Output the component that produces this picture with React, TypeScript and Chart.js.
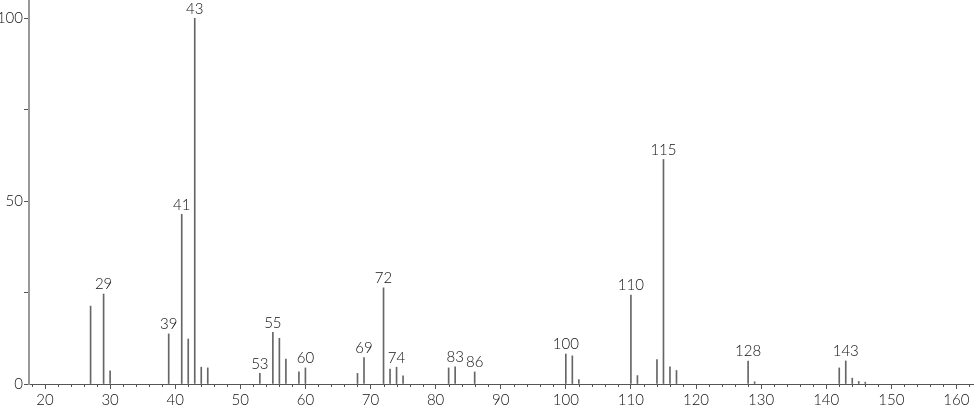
import React, { useEffect, useRef } from "react";
import { Chart, registerables } from "chart.js";

Chart.register(...registerables);

const mzValues = [27, 29, 30, 39, 41, 42, 43, 44, 45, 53, 55, 56, 57, 59, 60, 68, 69, 72, 73, 74, 75, 82, 83, 86, 100, 101, 102, 110, 111, 114, 115, 116, 117, 128, 129, 142, 143, 144, 145, 146];
const intensities = [21.3, 24.6, 3.6, 13.7, 46.4, 12.3, 100, 4.6, 4.4, 2.9, 14.1, 12.5, 6.8, 3.3, 4.4, 2.9, 7.2, 26.3, 4.1, 4.6, 2.2, 4.4, 4.7, 3.3, 8.2, 7.7, 1.2, 24.3, 2.3, 6.7, 61.4, 4.7, 3.7, 6.3, 0.6, 4.4, 6.3, 1.6, 0.7, 0.5];
const labeledPeaks = [29, 39, 41, 43, 53, 55, 60, 69, 72, 74, 83, 86, 100, 110, 115, 128, 143];
const xMajorTicks = [20, 30, 40, 50, 60, 70, 80, 90, 100, 110, 120, 130, 140, 150, 160];
const yTicks = [0, 25, 50, 75, 100];
const yLabeledTicks = [0, 50, 100];

const FONT = "Lato, 'DejaVu Sans', sans-serif";

export default function App() {
  const ref = useRef<HTMLCanvasElement | null>(null);

  useEffect(() => {
    if (!ref.current) return;
    const peakLabels = {
      id: "peakLabels",
      afterDatasetsDraw(chart: any) {
        const ctx = chart.ctx;
        const meta = chart.getDatasetMeta(0);
        ctx.save();
        ctx.font = `300 15px ${FONT}`;
        ctx.fillStyle = "#111";
        ctx.textAlign = "center";
        ctx.textBaseline = "bottom";
        mzValues.forEach((mz, i) => {
          if (!labeledPeaks.includes(mz)) return;
          const el = meta.data[i];
          ctx.fillText(String(mz), el.x, el.y - 2);
        });
        ctx.restore();
      },
    };
    const minorTicks = {
      id: "minorTicks",
      afterDraw(chart: any) {
        const ctx = chart.ctx;
        const xs = chart.scales.x;
        const bottom = chart.chartArea.bottom;
        ctx.save();
        ctx.strokeStyle = "#555";
        ctx.lineWidth = 1;
        ctx.beginPath();
        for (let v = 18; v <= 162; v += 2) {
          if (v % 10 === 0) continue;
          const px = Math.round(xs.getPixelForValue(v)) + 0.5;
          ctx.moveTo(px, bottom);
          ctx.lineTo(px, bottom + 3);
        }
        ctx.stroke();
        ctx.restore();
      },
    };
    const chart = new Chart(ref.current, {
      type: "bar",
      data: {
        datasets: [
          {
            data: mzValues.map((x, i) => ({ x, y: intensities[i] })),
            backgroundColor: "#666",
            borderWidth: 0,
            barThickness: 1,
          },
        ],
      },
      options: {
        animation: false,
        responsive: false,
        maintainAspectRatio: false,
        layout: { padding: 0 },
        plugins: { legend: { display: false }, tooltip: { enabled: false } },
        scales: {
          x: {
            type: "linear",
            offset: false,
            min: 17.54,
            max: 162.7,
            afterBuildTicks: (s: any) => {
              s.ticks = xMajorTicks.map((v) => ({ value: v }));
            },
            afterFit: (s: any) => {
              s.height = 22;
              s.paddingLeft = 0;
              s.paddingRight = 0;
            },
            grid: { offset: false, drawOnChartArea: false, drawTicks: true, tickLength: 5, tickColor: "#555" },
            border: { display: true, color: "#555", width: 1 },
            ticks: {
              autoSkip: false,
              maxRotation: 0,
              padding: 2,
              color: "#111",
              font: { family: FONT, size: 15, weight: "300" },
            },
          },
          y: {
            min: 0,
            max: 105,
            afterBuildTicks: (s: any) => {
              s.ticks = yTicks.map((v) => ({ value: v }));
            },
            afterFit: (s: any) => {
              s.width = 29;
              s.paddingTop = 0;
              s.paddingBottom = 0;
            },
            grid: { drawOnChartArea: false, drawTicks: true, tickLength: 5, tickColor: "#555" },
            border: { display: true, color: "#999", width: 2 },
            ticks: {
              autoSkip: false,
              padding: 1,
              color: "#111",
              font: { family: FONT, size: 15, weight: "300" },
              callback: (v: any) => (yLabeledTicks.includes(Number(v)) ? String(v) : ""),
            },
          },
        },
      },
      plugins: [peakLabels, minorTicks],
    });
    return () => chart.destroy();
  }, []);

  return (
    <div style={{ position: "absolute", left: 0, top: 0, width: 974, height: 406, background: "#fff" }}>
      <canvas ref={ref} width={974} height={406} style={{ display: "block", width: 974, height: 406 }} />
    </div>
  );
}
